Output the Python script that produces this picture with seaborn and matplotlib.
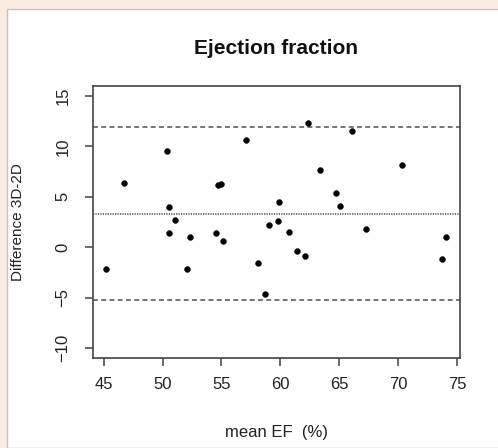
import matplotlib
matplotlib.use("Agg")
import matplotlib.pyplot as plt
from matplotlib.patches import Rectangle
import seaborn as sns
import pandas as pd

# Bland-Altman data: mean EF (%) and difference 3D-2D
mean_ef = [45.23, 46.72, 50.42, 50.59, 51.07, 50.59, 52.37, 52.09, 54.75, 54.97,
           54.58, 55.14, 57.06, 58.11, 58.67, 59.04, 59.86, 59.77, 60.76, 61.44,
           62.06, 62.37, 63.36, 66.04, 64.75, 65.03, 67.31, 70.31, 74.09, 73.70]
difference = [-2.2, 6.34, 9.57, 4.0, 2.74, 1.44, 0.97, -2.2, 6.14, 6.24,
              1.44, 0.64, 10.64, -1.56, -4.6, 2.24, 4.47, 2.64, 1.54, -0.33,
              -0.9, 12.37, 7.7, 11.5, 5.34, 4.07, 1.84, 8.17, 0.97, -1.2]
mean_diff = 3.3
upper_loa = 11.9
lower_loa = -5.2
x_ticks = [45, 50, 55, 60, 65, 70, 75]
y_ticks = [-10, -5, 0, 5, 10, 15]

df = pd.DataFrame({"mean": mean_ef, "diff": difference})

sns.set_theme(style="white")
plt.rcParams['font.family'] = ['Liberation Sans', 'DejaVu Sans']

W, H = 498, 448
fig = plt.figure(figsize=(W / 100, H / 100), dpi=100, facecolor="#fcede3")
fig.patches.append(Rectangle((7 / W, 0), 1, 1 - 9 / H, transform=fig.transFigure,
                             facecolor="white", edgecolor="#c4c4c4", lw=1, zorder=-5))

ax = fig.add_axes([92.7 / W, 1 - 358 / H, (460 - 92.7) / W, (358 - 86) / H])
ax.set_facecolor("white")

sns.scatterplot(data=df, x="mean", y="diff", ax=ax, color="black", s=18,
                edgecolor="black", linewidth=0.3, zorder=3)

ax.axhline(upper_loa, color="#505050", lw=1.1, dashes=(3.2, 2.2))
ax.axhline(lower_loa, color="#505050", lw=1.1, dashes=(3.2, 2.2))
ax.axhline(mean_diff, color="#444444", lw=1.1, dashes=(0.8, 0.8))

ax.margins(x=0.04)
ax.set_ylim(-11, 16)
ax.set_xticks(x_ticks)
ax.set_yticks(y_ticks)

for sp in ax.spines.values():
    sp.set_visible(True)
    sp.set_color("#444444")
    sp.set_linewidth(1.2)

ax.tick_params(axis="both", direction="out", length=6, width=1.1, color="#444444",
               labelsize=12, labelcolor="#222222", left=True, bottom=True)
ax.tick_params(axis="x", pad=8)
ax.tick_params(axis="y", labelrotation=90, pad=10)
for lab in ax.get_yticklabels():
    lab.set_va("center")

ax.set_xlabel("mean EF  (%)", fontsize=12, color="#222222")
ax.set_ylabel("Difference 3D-2D", fontsize=11, color="#222222")
ax.xaxis.set_label_coords(0.5, (358 - 425) / (358 - 86))
ax.yaxis.set_label_coords((25 - 92.7) / (460 - 92.7), 0.5)

fig.text(276 / W, 1 - 48 / H, "Ejection fraction", ha="center", va="center",
         fontsize=15, fontweight="bold", color="#111111")

fig.savefig("out.png", dpi=100, facecolor=fig.get_facecolor())
